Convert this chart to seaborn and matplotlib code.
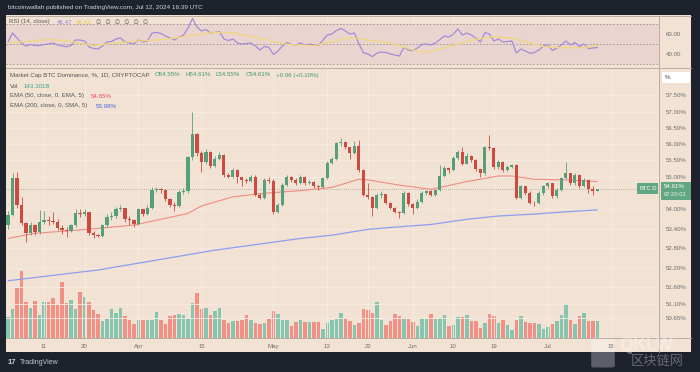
import numpy as np
import pandas as pd
import matplotlib
matplotlib.use("Agg")
import matplotlib.pyplot as plt
import seaborn as sns
from matplotlib.patches import Rectangle, FancyBboxPatch

# data (BTC dominance, daily, from 2024-03-03)
start_date = "2024-03-03"
first_open = 53.51
closes = [53.82, 54.96, 54.13, 53.57, 53.27, 53.51, 53.30, 53.60, 53.67, 53.64,
          53.62, 53.42, 53.36, 53.34, 53.50, 53.88, 53.86, 53.90, 53.27, 53.20,
          53.19, 53.50, 53.76, 53.78, 54.00, 54.03, 53.70, 53.66, 53.53, 54.00,
          53.84, 54.05, 54.60, 54.62, 54.60, 54.30, 54.13, 54.10, 54.53, 54.55,
          55.60, 56.30, 55.73, 55.45, 55.76, 55.32, 55.55, 55.67, 55.05, 54.98,
          55.20, 54.98, 54.90, 54.88, 55.00, 54.44, 54.35, 54.90, 54.88, 53.90,
          54.14, 54.75, 55.00, 54.90, 54.80, 55.00, 54.80, 54.85, 54.70, 54.68,
          54.96, 55.42, 55.55, 56.03, 56.05, 55.90, 55.73, 55.93, 55.20, 54.45,
          54.38, 54.03, 54.44, 54.46, 54.20, 54.05, 53.92, 53.88, 54.50, 54.16,
          54.03, 54.23, 54.50, 54.55, 54.45, 54.58, 55.02, 55.27, 55.20, 55.57,
          55.77, 55.40, 55.65, 55.50, 55.22, 55.10, 55.90, 55.88, 55.30, 55.45,
          55.20, 55.30, 55.35, 54.35, 54.70, 54.50, 54.20, 54.18, 54.50, 54.70,
          54.80, 54.40, 54.60, 54.96, 55.10, 54.80, 55.05, 54.70, 54.90, 54.62,
          54.55, 54.61]
highs = [53.95, 55.10, 55.15, 54.38, 53.60, 53.60, 53.55, 53.98, 53.95, 53.80,
         53.90, 53.70, 53.50, 53.45, 53.55, 54.02, 54.02, 54.00, 53.92, 53.32,
         53.25, 53.55, 53.85, 53.90, 54.07, 54.12, 54.05, 53.78, 53.70, 54.05,
         54.02, 54.12, 54.68, 54.68, 54.66, 54.62, 54.33, 54.22, 54.58, 54.65,
         55.65, 57.00, 56.35, 55.80, 55.85, 55.80, 55.62, 55.75, 55.70, 55.12,
         55.28, 55.22, 55.00, 54.95, 55.05, 55.05, 54.50, 54.95, 54.98, 54.92,
         54.20, 54.80, 55.05, 55.02, 54.95, 55.05, 55.02, 54.90, 54.88, 54.75,
         55.00, 55.48, 55.60, 56.08, 56.18, 56.10, 55.92, 56.10, 56.12, 55.22,
         54.80, 54.42, 54.50, 54.55, 54.48, 54.22, 54.08, 53.95, 54.55, 54.52,
         54.20, 54.30, 54.55, 54.60, 54.58, 54.62, 55.35, 55.32, 55.30, 55.62,
         55.82, 55.90, 55.72, 55.68, 55.55, 55.25, 55.95, 56.28, 55.92, 55.52,
         55.48, 55.35, 55.40, 55.38, 54.75, 54.72, 54.55, 54.25, 54.55, 54.75,
         54.85, 54.82, 54.66, 55.00, 55.46, 55.12, 55.10, 55.08, 54.95, 54.92,
         54.70, 54.61]
lows = [53.40, 53.78, 54.05, 53.50, 53.00, 53.20, 53.20, 53.25, 53.55, 53.50,
        53.55, 53.35, 53.25, 53.15, 53.30, 53.45, 53.75, 53.80, 53.22, 53.12,
        53.13, 53.15, 53.45, 53.68, 53.72, 53.95, 53.62, 53.50, 53.45, 53.50,
        53.78, 53.82, 54.02, 54.52, 54.50, 54.25, 54.08, 53.95, 54.08, 54.48,
        54.50, 55.50, 55.65, 55.15, 55.40, 55.28, 55.30, 55.50, 55.00, 54.95,
        54.95, 54.80, 54.72, 54.80, 54.85, 54.40, 54.30, 54.30, 54.82, 53.85,
        53.88, 54.10, 54.70, 54.85, 54.75, 54.78, 54.75, 54.78, 54.65, 54.60,
        54.65, 54.92, 55.38, 55.50, 55.95, 55.85, 55.55, 55.70, 55.15, 54.40,
        54.30, 53.80, 54.00, 54.35, 54.15, 54.00, 53.88, 53.73, 53.86, 54.10,
        53.85, 54.00, 54.20, 54.45, 54.40, 54.42, 54.55, 54.98, 55.12, 55.18,
        55.52, 55.35, 55.38, 55.45, 55.18, 54.98, 55.05, 55.82, 55.25, 55.25,
        55.15, 55.18, 55.26, 54.30, 54.30, 54.45, 54.15, 54.10, 54.15, 54.45,
        54.65, 54.35, 54.35, 54.55, 54.92, 54.75, 54.75, 54.65, 54.68, 54.50,
        54.45, 54.55]
volume_b = [177, 247, 416, 562, 303, 253, 309, 197, 303, 303,
            337, 275, 466, 295, 317, 247, 388, 340, 303, 233,
            205, 143, 171, 242, 211, 253, 183, 149, 115, 155,
            155, 155, 155, 219, 155, 115, 183, 197, 199, 197,
            163, 290, 374, 242, 253, 191, 228, 253, 155, 129,
            140, 140, 155, 191, 155, 129, 121, 129, 163, 225,
            199, 155, 155, 101, 135,
            149, 135, 135, 135, 135, 76, 129, 149, 163, 211,
            171, 140, 107, 129, 247, 233, 213, 298, 149, 107,
            143, 199, 185, 171, 163, 135, 98, 157, 157, 205,
            157, 171, 194, 98, 112, 177, 177, 191, 143, 143,
            87, 126, 205, 183, 129, 149, 112, 65, 155, 188,
            135, 126, 129, 115, 79, 93, 115, 143, 197, 289,
            155, 115, 183, 211, 143, 143, 143]
ema50_idx = [0, 6, 13, 20, 28, 35, 40, 43, 50, 57, 65, 72, 78, 80, 87, 94, 102,
             109, 112, 117, 124, 131]
ema50_val = [53.10, 53.26, 53.33, 53.41, 53.51, 53.72, 53.87, 54.10, 54.38, 54.49,
             54.57, 54.67, 54.92, 54.90, 54.74, 54.61, 54.85, 55.02, 55.02, 54.92,
             54.90, 54.85]
sma200_idx = [0, 20, 46, 65, 72, 80, 87, 94, 102, 109, 117, 124, 131]
sma200_val = [51.80, 52.13, 52.74, 53.10, 53.20, 53.38, 53.46, 53.53, 53.69,
              53.79, 53.85, 53.92, 53.98]
rsi = [52, 61, 56, 51, 48, 49.5, 48.5, 48.5, 49.5, 50, 51, 49, 48, 47.3, 48.5,
       54, 54, 53, 47, 45.5, 45, 48, 52, 52.5, 55, 56, 52, 51, 50, 54, 52, 53,
       61, 61.5, 60.5, 58, 56, 54, 57, 59, 66, 75.5, 67, 63, 64.5, 61, 61.5,
       62.5, 55, 53.5, 55, 51, 50, 50.5, 51, 48, 44, 47.5, 46.5, 39.5, 43, 48,
       51.5, 49.5, 49, 51, 49, 50, 49, 48.5, 54, 59, 60, 63.5, 65.5, 63, 60,
       61, 50, 41.3, 40, 37.3, 41, 42, 41.5, 40, 39, 38, 46.7, 44, 43.3, 46,
       49.5, 50, 49, 51, 54.5, 58, 57, 60, 65, 59, 61, 59, 56, 52, 61.3, 60,
       53, 55, 52, 52.5, 53, 41, 45, 43, 40.7, 41.5, 44, 48, 49.5, 43.5, 46,
       49, 53, 49, 51.5, 47.5, 50, 45.5, 46, 46.47]
rsi_ma_idx = [0, 6, 9, 13, 19, 23, 29, 35, 40, 46, 50, 56, 62, 68, 72, 76, 85,
              90, 93, 98, 104, 108, 112, 115, 119, 123, 128, 131]
rsi_ma_val = [51.3, 53, 54.7, 53, 48.3, 50.7, 53, 54.7, 58, 61.7, 61.3, 55.7,
              49.7, 48.3, 52.3, 56.5, 51, 44, 41.5, 47.3, 54.7, 57.3, 55.7, 52.3,
              47.3, 46.3, 46.3, 48.43]
tick_dates = ["2024-03-11", "2024-03-20", "2024-04-01", "2024-04-15", "2024-05-01",
              "2024-05-13", "2024-05-22", "2024-06-01", "2024-06-10", "2024-06-19",
              "2024-07-01", "2024-07-15"]
tick_labels = ["11", "20", "Apr", "15", "May", "13", "22", "Jun", "10", "19", "Jul", "15"]
price_ticks = [57.5, 57.0, 56.5, 56.0, 55.5, 55.0, 54.0, 53.4, 52.8, 52.2, 51.6, 51.1, 50.65]
rsi_ticks = [60, 40]

sns.set_theme(style="white")
plt.rcParams['font.family'] = ['Liberation Sans', 'DejaVu Sans', 'Noto Sans CJK SC']

W, H = 700, 372
BG = '#f2e2d3'
DARK = '#1e222d'
GRID = '#f7ece3'
LINE = '#b9aca0'
GREEN = '#55a07a'
RED = '#cc4a3f'
TXT = '#555555'

fig = plt.figure(figsize=(7, 3.72), dpi=100)
fig.patch.set_facecolor(DARK)


def px_axes(x0, y0, x1, y1):
    return fig.add_axes([x0 / W, 1 - y1 / H, (x1 - x0) / W, (y1 - y0) / H])


def ftext(x, y, s, **kw):
    fig.text(x / W, 1 - y / H, s, va='center', **kw)


fig.add_artist(Rectangle((6 / W, 1 - 352 / H), 685 / W, 337 / H,
                         transform=fig.transFigure, facecolor=BG, edgecolor='none', zorder=0))

n = len(closes)
x = np.arange(n)
opens = [first_open] + closes[:-1]
dates = pd.date_range(start_date, periods=n)
tick_pos = [(pd.Timestamp(d) - dates[0]).days for d in tick_dates]
xlim = (-0.45, 144.7)

# ---- RSI pane
ax_r = px_axes(6, 16, 659, 67)
ax_r.set_facecolor(BG)
ax_r.axhspan(30, 70, color='#e6cfd0', alpha=0.7, lw=0)
for lv in (70, 50, 30):
    ax_r.axhline(lv, color='#9e8f8a', lw=0.6, ls=(0, (2, 2)))
for t in tick_pos:
    ax_r.axvline(t, color=GRID, lw=0.6, zorder=0)
sns.lineplot(x=x, y=rsi, ax=ax_r, color='#a68bd8', lw=0.9)
sns.lineplot(x=rsi_ma_idx, y=rsi_ma_val, ax=ax_r, color='#f2d77c', lw=0.9)
ax_r.set_xlim(xlim)
ax_r.set_ylim(27, 78)
ax_r.set_xticks([])
ax_r.yaxis.tick_right()
ax_r.set_yticks(rsi_ticks)
ax_r.set_yticklabels([f"{v:.2f}" for v in rsi_ticks], fontsize=4.4, color='#6f6f6f')
ax_r.tick_params(axis='y', length=0, pad=5)
for s in ax_r.spines.values():
    s.set_visible(False)

# ---- main pane
ax = px_axes(6, 68, 659, 338)
axv = ax.twinx()
ax.set_zorder(axv.get_zorder() + 1)
ax.patch.set_visible(False)
axv.patch.set_visible(False)

up = [c >= o for o, c in zip(opens, closes)]
vcol = ['#86c6b0' if u else '#f39086' for u in up]
axv.bar(x, volume_b, width=0.75, color=vcol, lw=0)
axv.set_ylim(0, max(volume_b) / 0.248)
axv.set_yticks([])
axv.set_xlim(xlim)

for p in price_ticks:
    ax.axhline(p, color=GRID, lw=0.6, zorder=0)
for t in tick_pos:
    ax.axvline(t, color=GRID, lw=0.6, zorder=0)

ccol = [GREEN if u else RED for u in up]
ax.vlines(x, lows, highs, colors=ccol, lw=0.6, zorder=3)
body_b = [min(o, c) for o, c in zip(opens, closes)]
body_h = [max(abs(c - o), 0.02) for o, c in zip(opens, closes)]
ax.bar(x, body_h, bottom=body_b, width=0.68, color=ccol, lw=0, zorder=4)

sns.lineplot(x=ema50_idx, y=ema50_val, ax=ax, color='#f28b82', lw=0.8, zorder=2)
sns.lineplot(x=sma200_idx, y=sma200_val, ax=ax, color='#8c9ef2', lw=0.9, zorder=2)
ax.axhline(closes[-1], color='#8a8a8a', lw=0.5, ls=(0, (1, 2)), zorder=1)

ax.set_xlim(xlim)
ax.set_ylim(50.04, 58.34)
ax.yaxis.tick_right()
ax.set_yticks(price_ticks)
ax.set_yticklabels([f"{v:.2f}%" for v in price_ticks], fontsize=4.4, color='#6f6f6f')
ax.tick_params(axis='y', length=0, pad=5)
ax.set_xticks(tick_pos)
ax.set_xticklabels(tick_labels, fontsize=4.4, color='#6f6f6f')
ax.tick_params(axis='x', length=0, pad=4)
ax.set_xlabel('')
ax.set_ylabel('')
for s in list(ax.spines.values()) + list(axv.spines.values()):
    s.set_visible(False)

# pane separators
for yy in (16, 67.5, 338):
    fig.add_artist(plt.Line2D([6 / W, 691 / W], [1 - yy / H] * 2, color=LINE, lw=0.7))
fig.add_artist(plt.Line2D([659 / W] * 2, [1 - 16 / H, 1 - 352 / H], color=LINE, lw=0.7))

# price labels on the right
fig.add_artist(Rectangle((662 / W, 1 - 83 / H), 28 / W, 11 / H, transform=fig.transFigure,
                         facecolor='white', edgecolor='none'))
ftext(665, 77.5, '%', fontsize=4.4, color='#444444')
fig.add_artist(Rectangle((637 / W, 1 - 193.5 / H), 21 / W, 11 / H, transform=fig.transFigure,
                         facecolor='#63a683', edgecolor='none'))
ftext(640, 188, 'BTC.D', fontsize=4.2, color='white')
fig.add_artist(Rectangle((661 / W, 1 - 200 / H), 30 / W, 18 / H, transform=fig.transFigure,
                         facecolor='#63a683', edgecolor='none'))
ftext(664, 187, '54.61%', fontsize=4.4, color='white')
ftext(664, 195, '07:20:01', fontsize=4.2, color='#e8f3ec')

# header texts
ftext(8, 8, 'bitcoinwallah published on TradingView.com, Jul 12, 2024 16:39 UTC',
      fontsize=4.6, color='#d1d4dc')
ftext(9, 22, 'RSI (14, close)', fontsize=4.4, color=TXT)
ftext(57, 22, '46.47', fontsize=4.4, color='#9a7fd6')
ftext(76, 22, '48.43', fontsize=4.4, color='#e7c94e')
ftext(96, 22, '∅  ∅  ∅  ∅  ∅  ∅', fontsize=4.4, color=TXT, family=['DejaVu Sans'])
ftext(10, 75, 'Market Cap BTC Dominance, %, 1D, CRYPTOCAP', fontsize=4.4, color=TXT)
for xx, s in [(155, 'O54.55%'), (185, 'H54.61%'), (216, 'L54.55%'), (246, 'C54.61%'),
              (276, '+0.06 (+0.10%)')]:
    ftext(xx, 75, s, fontsize=4.4, color='#3f9a6a')
ftext(10, 86, 'Vol', fontsize=4.4, color=TXT)
ftext(24, 86, '143.301B', fontsize=4.4, color='#3aa58e')
ftext(10, 96, 'EMA (50, close, 0, EMA, 5)', fontsize=4.4, color=TXT)
ftext(91, 96, '54.85%', fontsize=4.4, color='#ef4a5a')
ftext(10, 106, 'EMA (200, close, 0, SMA, 5)', fontsize=4.4, color=TXT)
ftext(96, 106, '53.98%', fontsize=4.4, color='#4a64e6')

# footer
ftext(8, 362, '17', fontsize=5.5, color='#d1d4dc', fontweight='bold')
ftext(20, 362, 'TradingView', fontsize=5, color='#c5c8d0')

# watermark
fig.add_artist(FancyBboxPatch((594 / W, 1 - 366 / H), 18 / W, 27 / H,
                              boxstyle='round,pad=0.004', transform=fig.transFigure,
                              facecolor='white', alpha=0.28, edgecolor='none'))
ftext(619, 345, 'QKLW', fontsize=13, color='white', alpha=0.33, fontweight='bold')
ftext(631, 361, '区块链网', fontsize=9.5, color='white', alpha=0.33,
      family=['Noto Sans CJK SC', 'DejaVu Sans'])

fig.savefig('out.png', dpi=100, facecolor=fig.get_facecolor())
